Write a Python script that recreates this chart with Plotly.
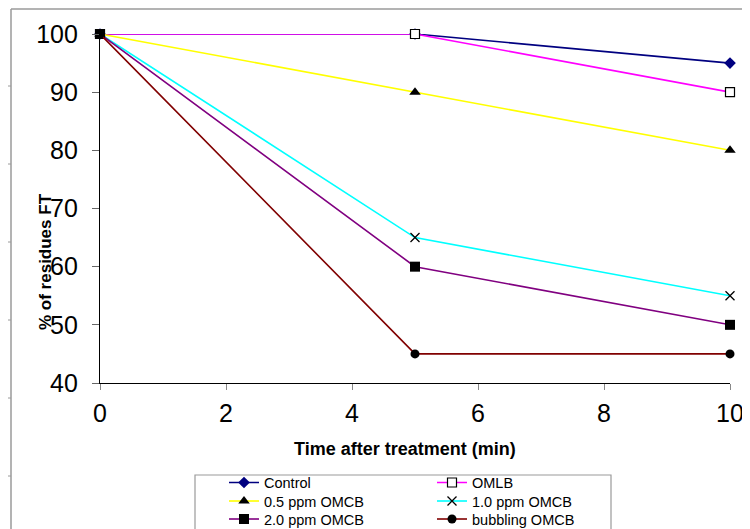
import plotly.graph_objects as go

time_min = [0, 5, 10]
control = [100, 100, 95]
omlb = [100, 100, 90]
omcb_05 = [100, 90, 80]
omcb_10 = [100, 65, 55]
omcb_20 = [100, 60, 50]
bubbling = [100, 45, 45]

series_names = ["Control", "OMLB", "0.5 ppm OMCB", "1.0 ppm OMCB", "2.0 ppm OMCB", "bubbling OMCB"]
x_ticks = [0, 2, 4, 6, 8, 10]
y_ticks = [40, 50, 60, 70, 80, 90, 100]

# page body has an 8px margin; compensate so the figure sits like the reference
OFF = 8
W, H = 750 - OFF, 529 - OFF
# reference plot area: x 100..730, y 34..383
L, T = 100 - OFF, 34 - OFF
R = W - (730 - OFF)
B = H - (383 - OFF)
PW, PH = W - L - R, H - T - B

def px(xp):
    return (xp - OFF - L) / PW

def py(yp):
    return (H - B - (yp - OFF)) / PH

FONT = "Liberation Sans, Arial, sans-serif"
LEG_FONT = 14.5

styles = [
    dict(line=dict(color="#000080", width=1.6), marker=dict(symbol="diamond", size=9, color="#000080")),
    dict(line=dict(color="#FF00FF", width=1.6), marker=dict(symbol="square", size=9, color="white", line=dict(color="black", width=1.2))),
    dict(line=dict(color="#FFFF00", width=1.6), marker=dict(symbol="triangle-up", size=10, color="black")),
    dict(line=dict(color="#00FFFF", width=1.6), marker=dict(symbol="x-thin", size=9, color="black", line=dict(color="black", width=1.3))),
    dict(line=dict(color="#800080", width=1.6), marker=dict(symbol="square", size=10, color="black")),
    dict(line=dict(color="#800000", width=1.6), marker=dict(symbol="circle", size=9, color="black")),
]
data = [control, omlb, omcb_05, omcb_10, omcb_20, bubbling]

# legend layout: 2 columns x 3 rows (row-major), one legend per entry
leg_ids = ["legend", "legend2", "legend3", "legend4", "legend5", "legend6"]
col_x = [224, 432]
row_y = [482.5, 501, 519]
item_h = LEG_FONT * 1.3 + 3

fig = go.Figure()
for name, vals, st, lid in zip(series_names, data, styles, leg_ids):
    fig.add_trace(go.Scatter(x=time_min, y=vals, mode="lines+markers", name=name,
                             line=st["line"], marker=st["marker"], legend=lid,
                             cliponaxis=False))

legends = {}
for i, lid in enumerate(leg_ids):
    r, c = divmod(i, 2)
    legends[lid] = dict(orientation="v", yanchor="top", xanchor="left", bgcolor="rgba(0,0,0,0)",
                        borderwidth=0, font=dict(family=FONT, size=LEG_FONT, color="black"),
                        itemwidth=30, x=px(col_x[c]), y=py(row_y[r] - 5 - item_h / 2))

shapes = []
# outer border (gray), top and left
shapes.append(dict(type="line", xref="paper", yref="paper", x0=px(11), x1=px(780), y0=py(9), y1=py(9),
                   line=dict(color="#9a9a9a", width=1.5)))
shapes.append(dict(type="line", xref="paper", yref="paper", x0=px(11), x1=px(11), y0=py(9), y1=py(570),
                   line=dict(color="#9a9a9a", width=1.5)))
for yy in [86, 164, 242, 320, 398, 476]:
    shapes.append(dict(type="line", xref="paper", yref="paper", x0=px(8), x1=px(11), y0=py(yy), y1=py(yy),
                       line=dict(color="#9a9a9a", width=1)))
# legend box
shapes.append(dict(type="rect", xref="paper", yref="paper", x0=px(195), x1=px(611), y0=py(475), y1=py(570),
                   line=dict(color="#9a9a9a", width=1.2), fillcolor="rgba(0,0,0,0)", layer="below"))

annotations = [
    dict(text="<b>% of residues FT</b>", xref="paper", yref="paper", x=px(45), y=py(262),
         xanchor="center", yanchor="middle", textangle=-90, showarrow=False,
         font=dict(family=FONT, size=17, color="black")),
    dict(text="<b>Time after treatment (min)</b>", xref="paper", yref="paper", x=px(405), y=py(449),
         xanchor="center", yanchor="middle", showarrow=False,
         font=dict(family=FONT, size=18, color="black")),
]

fig.update_layout(
    width=W, height=H,
    margin=dict(l=L, r=R, t=T, b=B, autoexpand=False),
    paper_bgcolor="white", plot_bgcolor="white",
    font=dict(family=FONT, color="black"),
    showlegend=True,
    xaxis=dict(range=[0, 10], tickvals=x_ticks, ticktext=[str(v) for v in x_ticks],
               showgrid=False, zeroline=False, showline=True, linecolor="black", linewidth=1.3,
               ticks="outside", ticklen=6, tickcolor="#888", tickwidth=1, ticklabelstandoff=2,
               tickfont=dict(family=FONT, size=25, color="black")),
    yaxis=dict(range=[40, 100], tickvals=y_ticks, ticktext=[str(v) for v in y_ticks],
               showgrid=False, zeroline=False, showline=True, linecolor="black", linewidth=1.3,
               ticks="outside", ticklen=7, tickcolor="#666", tickwidth=1, ticklabelstandoff=9,
               tickfont=dict(family=FONT, size=25, color="black")),
    shapes=shapes,
    annotations=annotations,
    **legends,
)

fig.write_html("out.html", config={"displayModeBar": False})
